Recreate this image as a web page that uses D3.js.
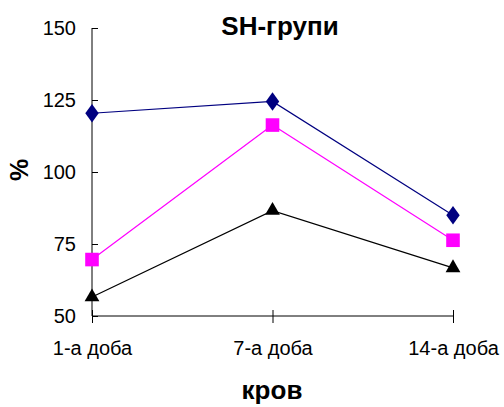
<!DOCTYPE html>
<html>
<head>
<meta charset="utf-8">
<script src="https://cdn.jsdelivr.net/npm/d3@7"></script>
<style>
  body { margin: 0; background: #fff; }
  svg { font-family: "Liberation Sans", Arial, sans-serif; }
</style>
</head>
<body>
<div id="chart"></div>
<script>
// Setting up constant variables
const FRAME_WIDTH = 504;
const FRAME_HEIGHT = 407;
const MARGINS = {left: 92, right: 51, top: 28, bottom: 91};

const VIS_WIDTH = FRAME_WIDTH - MARGINS.left - MARGINS.right;
const VIS_HEIGHT = FRAME_HEIGHT - MARGINS.top - MARGINS.bottom;

// data
const categories = ["1-а доба", "7-а доба", "14-а доба"];
const seriesNavy = [120.4, 124.5, 85];
const seriesMagenta = [69.6, 116.3, 76.3];
const seriesBlack = [56.6, 86.6, 66.7];
const yTicks = [50, 75, 100, 125, 150];

const FRAME1 = d3.select("#chart")
                  .append("svg")
                    .attr("width", FRAME_WIDTH)
                    .attr("height", FRAME_HEIGHT);

const X_SCALE = d3.scalePoint()
                    .domain(categories)
                    .range([MARGINS.left, MARGINS.left + VIS_WIDTH]);

const Y_SCALE = d3.scaleLinear()
                    .domain([50, 150])
                    .range([MARGINS.top + VIS_HEIGHT, MARGINS.top]);

// y axis with ticks crossing the line
const yAxis = FRAME1.append("g")
                .attr("transform", "translate(" + MARGINS.left + ",0)")
                .call(d3.axisLeft(Y_SCALE).tickValues(yTicks).tickSize(6).tickPadding(10));
yAxis.selectAll(".tick line").attr("x2", 6);
yAxis.select(".domain").attr("d", "M0," + Y_SCALE(150) + "V" + Y_SCALE(50));

// x axis
const xAxis = FRAME1.append("g")
                .attr("transform", "translate(0," + (MARGINS.top + VIS_HEIGHT) + ")")
                .call(d3.axisBottom(X_SCALE).tickSize(7).tickPadding(18));
xAxis.selectAll(".tick line").attr("y1", -6);
xAxis.select(".domain").attr("d", "M" + X_SCALE(categories[0]) + ",0H" + X_SCALE(categories[2]));

FRAME1.selectAll("g").attr("font-size", 20).attr("font-family", "'Liberation Sans', Arial, sans-serif");
FRAME1.selectAll(".tick text").attr("fill", "#000");
FRAME1.selectAll(".domain, .tick line").attr("stroke", "#000");

// series
const series = [
  {values: seriesNavy, color: "#000080", shape: d3.symbolDiamond, size: 100},
  {values: seriesMagenta, color: "#ff00ff", shape: d3.symbolSquare, size: 185},
  {values: seriesBlack, color: "#000000", shape: d3.symbolTriangle, size: 95}
];

const line = d3.line()
                .x((d, i) => X_SCALE(categories[i]))
                .y(d => Y_SCALE(d));

series.forEach(s => {
  FRAME1.append("path")
          .datum(s.values)
          .attr("fill", "none")
          .attr("stroke", s.color)
          .attr("stroke-width", 1.2)
          .attr("d", line);

  FRAME1.selectAll(null)
          .data(s.values)
          .enter().append("path")
            .attr("d", d3.symbol().type(s.shape).size(s.size))
            .attr("transform", (d, i) => {
              const sc = s.shape === d3.symbolDiamond ? " scale(1.25,1)" : "";
              return "translate(" + X_SCALE(categories[i]) + "," + Y_SCALE(d) + ")" + sc;
            })
            .attr("fill", s.color);
});

// title and axis labels
FRAME1.append("text")
        .attr("x", 280)
        .attr("y", 35)
        .attr("text-anchor", "middle")
        .attr("font-size", 26)
        .attr("font-weight", "bold")
        .text("SH-групи");

FRAME1.append("text")
        .attr("x", 272)
        .attr("y", 399)
        .attr("text-anchor", "middle")
        .attr("font-size", 26)
        .attr("font-weight", "bold")
        .text("кров");

FRAME1.append("text")
        .attr("transform", "translate(28,170) rotate(-90)")
        .attr("text-anchor", "middle")
        .attr("font-size", 25)
        .attr("font-weight", "bold")
        .text("%");
</script>
</body>
</html>
